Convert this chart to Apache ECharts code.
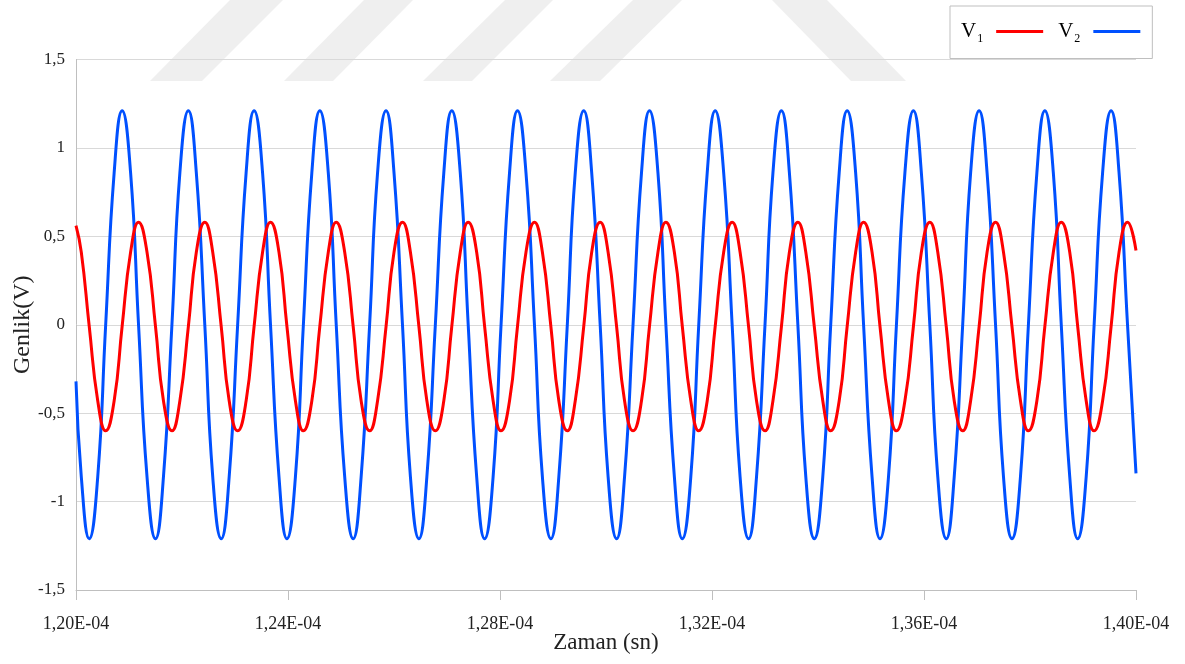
<!DOCTYPE html>
<html>
<head>
<meta charset="utf-8">
<script src="https://cdn.jsdelivr.net/npm/echarts@6/dist/echarts.min.js"></script>
<style>
html,body{margin:0;padding:0;background:#fff;}
#c{width:1185px;height:664px;}
</style>
</head>
<body>
<div id="c"></div>
<script>
// time in microseconds (axis labels shown in seconds)
var timeUs = [
  120.00,
  120.10,120.25,120.41,120.56,120.72,120.87,121.03,121.18,
  121.34,121.50,121.65,121.81,121.96,122.12,122.27,122.43,
  122.58,122.74,122.89,123.05,123.21,123.36,123.52,123.67,
  123.83,123.98,124.14,124.29,124.45,124.60,124.76,124.91,
  125.07,125.23,125.38,125.54,125.69,125.85,126.00,126.16,
  126.31,126.47,126.62,126.78,126.94,127.09,127.25,127.40,
  127.56,127.71,127.87,128.02,128.18,128.33,128.49,128.65,
  128.80,128.96,129.11,129.27,129.42,129.58,129.73,129.89,
  130.04,130.20,130.35,130.51,130.67,130.82,130.98,131.13,
  131.29,131.44,131.60,131.75,131.91,132.06,132.22,132.38,
  132.53,132.69,132.84,133.00,133.15,133.31,133.46,133.62,
  133.77,133.93,134.09,134.24,134.40,134.55,134.71,134.86,
  135.02,135.17,135.33,135.48,135.64,135.80,135.95,136.11,
  136.26,136.42,136.57,136.73,136.88,137.04,137.19,137.35,
  137.50,137.66,137.82,137.97,138.13,138.28,138.44,138.59,
  138.75,138.90,139.06,139.21,139.37,139.53,139.68,139.84,
  140.00
];
var v1 = [
  0.56,
  0.41,-0.01,-0.43,-0.60,-0.43,-0.01,0.41,0.58,
  0.41,-0.01,-0.43,-0.60,-0.43,-0.01,0.41,0.58,
  0.41,-0.01,-0.43,-0.60,-0.43,-0.01,0.41,0.58,
  0.41,-0.01,-0.43,-0.60,-0.43,-0.01,0.41,0.58,
  0.41,-0.01,-0.43,-0.60,-0.43,-0.01,0.41,0.58,
  0.41,-0.01,-0.43,-0.60,-0.43,-0.01,0.41,0.58,
  0.41,-0.01,-0.43,-0.60,-0.43,-0.01,0.41,0.58,
  0.41,-0.01,-0.43,-0.60,-0.43,-0.01,0.41,0.58,
  0.41,-0.01,-0.43,-0.60,-0.43,-0.01,0.41,0.58,
  0.41,-0.01,-0.43,-0.60,-0.43,-0.01,0.41,0.58,
  0.41,-0.01,-0.43,-0.60,-0.43,-0.01,0.41,0.58,
  0.41,-0.01,-0.43,-0.60,-0.43,-0.01,0.41,0.58,
  0.41,-0.01,-0.43,-0.60,-0.43,-0.01,0.41,0.58,
  0.41,-0.01,-0.43,-0.60,-0.43,-0.01,0.41,0.58,
  0.41,-0.01,-0.43,-0.60,-0.43,-0.01,0.41,0.58,
  0.41,-0.01,-0.43,-0.60,-0.43,-0.01,0.41,0.58,
  0.42
];
var v2 = [
  -0.32,
  -0.86,-1.21,-0.86,0.00,0.86,1.21,0.86,0.00,
  -0.86,-1.21,-0.86,0.00,0.86,1.21,0.86,0.00,
  -0.86,-1.21,-0.86,0.00,0.86,1.21,0.86,0.00,
  -0.86,-1.21,-0.86,0.00,0.86,1.21,0.86,0.00,
  -0.86,-1.21,-0.86,0.00,0.86,1.21,0.86,0.00,
  -0.86,-1.21,-0.86,0.00,0.86,1.21,0.86,0.00,
  -0.86,-1.21,-0.86,0.00,0.86,1.21,0.86,0.00,
  -0.86,-1.21,-0.86,0.00,0.86,1.21,0.86,0.00,
  -0.86,-1.21,-0.86,0.00,0.86,1.21,0.86,0.00,
  -0.86,-1.21,-0.86,0.00,0.86,1.21,0.86,0.00,
  -0.86,-1.21,-0.86,0.00,0.86,1.21,0.86,0.00,
  -0.86,-1.21,-0.86,0.00,0.86,1.21,0.86,0.00,
  -0.86,-1.21,-0.86,0.00,0.86,1.21,0.86,0.00,
  -0.86,-1.21,-0.86,0.00,0.86,1.21,0.86,0.00,
  -0.86,-1.21,-0.86,0.00,0.86,1.21,0.86,0.00,
  -0.86,-1.21,-0.86,0.00,0.86,1.21,0.86,0.00,
  -0.84
];
var seriesNames = ['V1', 'V2'];
var xTicks = ['1,20E-04','1,24E-04','1,28E-04','1,32E-04','1,36E-04','1,40E-04'];
var yTicks = ['-1,5','-1','-0,5','0','0,5','1','1,5'];

function pairs(xs, ys) { return xs.map(function (x, i) { return [x, ys[i]]; }); }

var FONT = '"Liberation Serif", "Times New Roman", serif';
var chart = echarts.init(document.getElementById('c'), null, {renderer: 'canvas'});
var wm = '#efefef';
chart.setOption({
  backgroundColor: '#fff',
  animation: false,
  graphic: [
    {type: 'polygon', z: -10, shape: {points: [[230,0],[283,0],[202,81],[150,81]]}, style: {fill: wm}},
    {type: 'polygon', z: -10, shape: {points: [[364,0],[413,0],[333,81],[284,81]]}, style: {fill: wm}},
    {type: 'polygon', z: -10, shape: {points: [[505,0],[553,0],[472,81],[423,81]]}, style: {fill: wm}},
    {type: 'polygon', z: -10, shape: {points: [[633,0],[682,0],[600,81],[550,81]]}, style: {fill: wm}},
    {type: 'polygon', z: -10, shape: {points: [[772,0],[827,0],[906,81],[851,81]]}, style: {fill: wm}}
  ],
  grid: {left: 76, right: 49, top: 59.5, bottom: 74, containLabel: false, outerBoundsMode: 'none'},
  legend: {
    left: 950, top: 6,
    align: 'right',
    itemWidth: 47, itemHeight: 3, itemGap: 15,
    padding: [15, 12, 14, 11],
    borderColor: '#bfbfbf', borderWidth: 1, backgroundColor: '#fff',
    data: [{name: 'V1', icon: 'rect'}, {name: 'V2', icon: 'rect'}],
    formatter: function (n) { return '{v|V}{s|' + n.slice(1) + '}'; },
    textStyle: {
      rich: {
        v: {fontFamily: FONT, fontSize: 21, color: '#000', lineHeight: 26},
        s: {fontFamily: FONT, fontSize: 12, color: '#000', lineHeight: 26, verticalAlign: 'bottom', padding: [0, 8, 0, 1]}
      }
    }
  },
  xAxis: {
    type: 'value', min: 120, max: 140, interval: 4,
    name: 'Zaman (sn)', nameLocation: 'middle', nameGap: 41, nameMoveOverlap: false,
    nameTextStyle: {fontFamily: FONT, fontSize: 23, color: '#222'},
    axisLine: {onZero: false, lineStyle: {color: '#bfbfbf', width: 1}},
    axisTick: {show: true, length: 10, lineStyle: {color: '#bfbfbf'}},
    axisLabel: {
      margin: 25, fontFamily: FONT, fontSize: 18, color: '#222',
      formatter: function (v) { return xTicks[Math.round((v - 120) / 4)]; }
    },
    splitLine: {show: false}
  },
  yAxis: {
    type: 'value', min: -1.5, max: 1.5, interval: 0.5,
    name: 'Genlik(V)', nameLocation: 'middle', nameGap: 41, nameRotate: 90, nameMoveOverlap: false,
    nameTextStyle: {fontFamily: FONT, fontSize: 24, color: '#222'},
    axisLine: {show: true, lineStyle: {color: '#bfbfbf', width: 1}},
    axisTick: {show: false},
    axisLabel: {
      margin: 11, fontFamily: FONT, fontSize: 17, color: '#222',
      formatter: function (v) { return yTicks[Math.round((v + 1.5) / 0.5)]; }
    },
    splitLine: {show: true, lineStyle: {color: '#d9d9d9', width: 1}}
  },
  series: [
    {name: seriesNames[0], type: 'line', data: pairs(timeUs, v1), smooth: 0.5, showSymbol: false, z: 4,
     lineStyle: {color: '#ff0000', width: 3}, itemStyle: {color: '#ff0000'}},
    {name: seriesNames[1], type: 'line', data: pairs(timeUs, v2), smooth: 0.5, showSymbol: false, z: 3,
     lineStyle: {color: '#0050ff', width: 3}, itemStyle: {color: '#0050ff'}}
  ]
});
</script>
</body>
</html>
